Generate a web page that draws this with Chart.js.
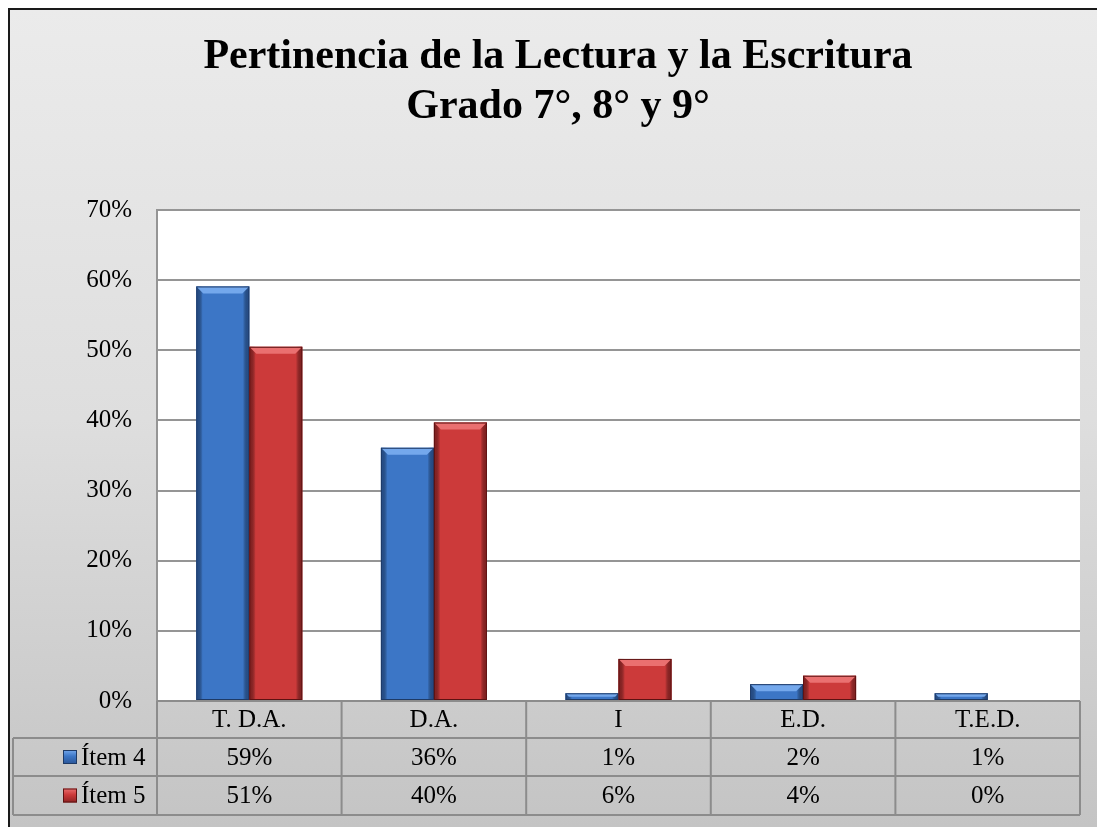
<!DOCTYPE html>
<html>
<head>
<meta charset="utf-8">
<script src="https://cdn.jsdelivr.net/npm/chart.js@4.4.0/dist/chart.umd.min.js"></script>
<style>
  html, body { margin: 0; padding: 0; background: #fff; overflow: hidden; }
</style>
</head>
<body>
<canvas id="grafico" width="1097" height="827"></canvas>
<script>
// datos
var categorias = ['T. D.A.', 'D.A.', 'I', 'E.D.', 'T.E.D.'];
var item4 = [59.1, 36.1, 1.1, 2.4, 1.1];
var item5 = [50.5, 39.7, 6.0, 3.6, 0];
var ticksY = [0, 10, 20, 30, 40, 50, 60, 70];
var titulo = ['Pertinencia de la Lectura y la Escritura', 'Grado 7°, 8° y 9°'];

var SERIF = "'Liberation Serif', 'Times New Roman', serif";

var colores = {
  azul: { base: '#3c76c6', luz: '#74a8ec', sombra: '#2a5597', borde: '#1e3a66' },
  rojo: { base: '#cc3a3a', luz: '#ea7070', sombra: '#8f2323', borde: '#5c1212' }
};

// fondo, marco y titulo
var fondoPlugin = {
  id: 'fondo',
  beforeDraw: function (chart) {
    var ctx = chart.ctx, a = chart.chartArea;
    ctx.save();
    ctx.fillStyle = '#ffffff';
    ctx.fillRect(0, 0, chart.width, chart.height);
    var g = ctx.createLinearGradient(0, 9, 0, chart.height);
    g.addColorStop(0, '#ebebeb');
    g.addColorStop(0.5, '#dedede');
    g.addColorStop(1, '#c4c4c4');
    ctx.fillStyle = g;
    ctx.fillRect(9, 9, chart.width, chart.height);
    ctx.strokeStyle = '#1a1a1a';
    ctx.lineWidth = 2;
    ctx.strokeRect(9, 9, chart.width + 20, chart.height + 20);
    ctx.fillStyle = '#ffffff';
    ctx.fillRect(a.left, a.top, a.right - a.left, a.bottom - a.top);
    ctx.restore();
  },
  afterDraw: function (chart) {
    var ctx = chart.ctx;
    ctx.save();
    ctx.fillStyle = '#000';
    ctx.textAlign = 'center';
    ctx.textBaseline = 'alphabetic';
    ctx.font = 'bold 42px ' + SERIF;
    ctx.fillText(titulo[0], 558, 68);
    ctx.fillText(titulo[1], 558, 118);
    ctx.restore();
  }
};

// relieve de las barras
var relievePlugin = {
  id: 'relieve',
  afterDatasetsDraw: function (chart) {
    var ctx = chart.ctx;
    ctx.save();
    chart.data.datasets.forEach(function (ds, i) {
      var c = ds.paleta;
      chart.getDatasetMeta(i).data.forEach(function (bar) {
        var p = bar.getProps(['x', 'y', 'base', 'width'], true);
        var h = p.base - p.y;
        if (h < 1) return;
        var l = p.x - p.width / 2, r = p.x + p.width / 2;
        var b = Math.min(7, h / 2);
        var gl = ctx.createLinearGradient(l, 0, r, 0);
        gl.addColorStop(0, c.sombra);
        gl.addColorStop(0.12, 'rgba(0,0,0,0)');
        gl.addColorStop(0.88, 'rgba(0,0,0,0)');
        gl.addColorStop(1, c.sombra);
        ctx.fillStyle = gl;
        ctx.fillRect(l, p.y, p.width, h);
        ctx.fillStyle = c.luz;
        ctx.beginPath();
        ctx.moveTo(l, p.y);
        ctx.lineTo(r, p.y);
        ctx.lineTo(r - b, p.y + b);
        ctx.lineTo(l + b, p.y + b);
        ctx.closePath();
        ctx.fill();
        ctx.strokeStyle = c.borde;
        ctx.lineWidth = 1;
        ctx.strokeRect(l + 0.5, p.y + 0.5, p.width - 1, h - 1);
      });
    });
    ctx.restore();
  }
};

// tabla de datos bajo el eje
var tablaPlugin = {
  id: 'tabla',
  afterDraw: function (chart) {
    var ctx = chart.ctx, a = chart.chartArea;
    var n = chart.data.labels.length;
    var colW = (a.right - a.left) / n;
    var filas = [a.bottom, a.bottom + 37, a.bottom + 75, a.bottom + 114];
    var izq = 13;
    ctx.save();
    ctx.strokeStyle = '#8c8c8c';
    ctx.lineWidth = 2;
    ctx.beginPath();
    ctx.moveTo(a.left, filas[0]); ctx.lineTo(a.right, filas[0]);
    for (var k = 1; k < filas.length; k++) {
      ctx.moveTo(izq, filas[k]); ctx.lineTo(a.right, filas[k]);
    }
    ctx.moveTo(izq, filas[1]); ctx.lineTo(izq, filas[3]);
    for (var i = 0; i <= n; i++) {
      var x = a.left + i * colW;
      ctx.moveTo(x, filas[0]); ctx.lineTo(x, filas[3]);
    }
    ctx.stroke();

    ctx.fillStyle = '#000';
    ctx.font = '25px ' + SERIF;
    ctx.textAlign = 'center';
    ctx.textBaseline = 'middle';
    chart.data.labels.forEach(function (lab, j) {
      var cx = a.left + (j + 0.5) * colW;
      ctx.fillText(lab, cx, (filas[0] + filas[1]) / 2 + 1);
      chart.data.datasets.forEach(function (ds, d) {
        ctx.fillText(Math.round(ds.data[j]) + '%', cx, (filas[d + 1] + filas[d + 2]) / 2 + 1);
      });
    });

    chart.data.datasets.forEach(function (ds, d) {
      var cy = (filas[d + 1] + filas[d + 2]) / 2;
      var c = ds.paleta;
      var g = ctx.createLinearGradient(0, cy - 7, 0, cy + 7);
      g.addColorStop(0, c.luz);
      g.addColorStop(0.45, c.base);
      g.addColorStop(1, c.sombra);
      ctx.fillStyle = g;
      ctx.fillRect(63, cy - 7, 14, 14);
      ctx.strokeStyle = c.borde;
      ctx.lineWidth = 1;
      ctx.strokeRect(63.5, cy - 6.5, 13, 13);
      ctx.fillStyle = '#000';
      ctx.textAlign = 'left';
      ctx.fillText(ds.label, 81, cy + 1);
    });
    ctx.restore();
  }
};

var grafico = new Chart(document.getElementById('grafico'), {
  type: 'bar',
  data: {
    labels: categorias,
    datasets: [
      { label: 'Ítem 4', data: item4, backgroundColor: colores.azul.base, paleta: colores.azul,
        categoryPercentage: 0.574, barPercentage: 1 },
      { label: 'Ítem 5', data: item5, backgroundColor: colores.rojo.base, paleta: colores.rojo,
        categoryPercentage: 0.574, barPercentage: 1 }
    ]
  },
  options: {
    responsive: false,
    animation: false,
    layout: { padding: { top: 210, right: 17, bottom: 0, left: 0 } },
    plugins: {
      legend: { display: false },
      title: { display: false },
      tooltip: { enabled: false }
    },
    scales: {
      x: {
        grid: { display: false, drawTicks: false },
        border: { display: false },
        ticks: { display: false },
        afterFit: function (s) { s.height = 126; }
      },
      y: {
        min: ticksY[0],
        max: ticksY[ticksY.length - 1],
        afterFit: function (s) { s.width = 157; },
        afterBuildTicks: function (s) { s.ticks = ticksY.map(function (v) { return { value: v }; }); },
        grid: { color: '#959595', lineWidth: 2, drawTicks: false },
        border: { display: true, color: '#959595', width: 2 },
        ticks: {
          padding: 25,
          color: '#000',
          font: { family: SERIF, size: 25 },
          callback: function (v) { return v + '%'; }
        }
      }
    }
  },
  plugins: [fondoPlugin, relievePlugin, tablaPlugin]
});
</script>
</body>
</html>
